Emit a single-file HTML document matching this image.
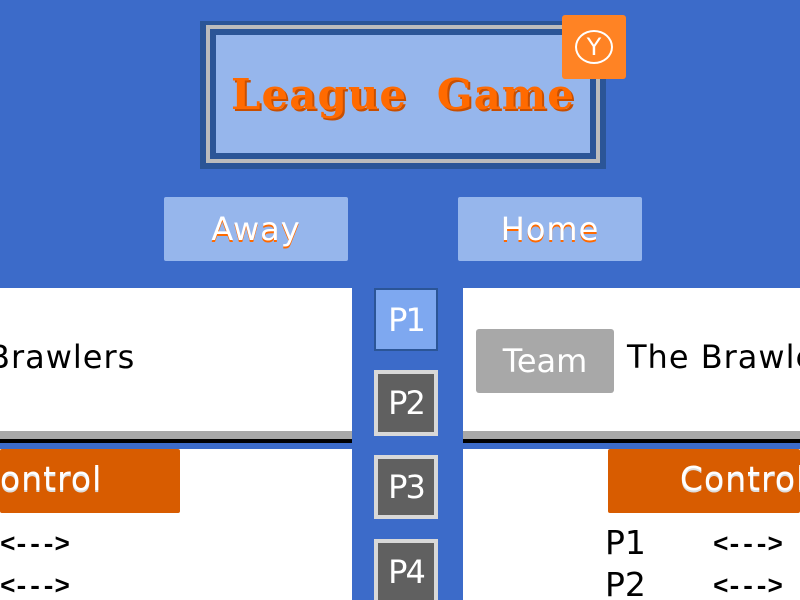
<!DOCTYPE html>
<html><head><meta charset="utf-8"><style>
*{margin:0;padding:0;box-sizing:border-box}
html,body{width:800px;height:600px;overflow:hidden}
body{background:#3c6bc9;position:relative;font-family:"DejaVu Sans","Liberation Sans",sans-serif}
#w{position:absolute;left:0;top:0;width:800px;height:600px;overflow:hidden}
.a{position:absolute}
.c{position:absolute;overflow:hidden}
.t{display:flex;align-items:center;justify-content:center}
.pb{position:absolute;left:374px;width:64px;color:#fff;font-size:32px;display:flex;align-items:center;justify-content:center;letter-spacing:-2px}
.m{font-size:26px;font-family:'Liberation Mono',monospace;font-weight:bold;letter-spacing:-2px}
</style></head><body><div id="w">
<div class="a" style="left:200px;top:21px;width:406px;height:148px;background:#2b5597"></div>
<div class="a" style="left:206px;top:25px;width:394px;height:138px;background:#bcbcbc"></div>
<div class="a" style="left:210px;top:29px;width:386px;height:130px;background:#2b5597"></div>
<div class="a t" style="left:216px;top:35px;width:374px;height:118px;background:#96b6ec;color:#ff6a00;font-family:'DejaVu Serif','Liberation Serif',serif;font-weight:bold;font-size:42px;letter-spacing:1px;text-shadow:2px 2px 0 #c84f00;word-spacing:14px">League Game</div>
<div class="a t" style="left:562px;top:15px;width:64px;height:64px;background:#ff8324;border-radius:3px"><div class="t" style="width:38px;height:34px;border:2px solid #fff;border-radius:50%;color:#fff;font-size:24px">Y</div></div>
<div class="a t" style="left:164px;top:197px;width:184px;height:64px;background:#96b6ec;color:#fff;font-size:32px;letter-spacing:1px;text-shadow:0 2px 0 #ff6a00;border-radius:2px">Away</div>
<div class="a t" style="left:458px;top:197px;width:184px;height:64px;background:#96b6ec;color:#fff;font-size:32px;letter-spacing:1px;text-shadow:0 2px 0 #ff6a00;border-radius:2px">Home</div>

<div class="c" style="left:0;top:288px;width:352px;height:144px;background:#fff">
  <div class="a" style="left:-12px;top:50px;font-size:32px;color:#000;letter-spacing:1px;white-space:nowrap">Brawlers</div>
</div>
<div class="c" style="left:463px;top:288px;width:337px;height:144px;background:#fff">
  <div class="a t" style="left:13px;top:41px;width:138px;height:64px;background:#a8a8a8;color:#fff;font-size:32px;border-radius:3px">Team</div>
  <div class="a" style="left:164px;top:50px;font-size:32px;color:#000;white-space:nowrap;letter-spacing:1px">The Brawlers</div>
</div>
<div class="a" style="left:0;top:431px;width:352px;height:8px;background:#a8a8a8"></div>
<div class="a" style="left:463px;top:431px;width:337px;height:8px;background:#a8a8a8"></div>
<div class="a" style="left:0;top:439px;width:352px;height:4px;background:#000"></div>
<div class="a" style="left:463px;top:439px;width:337px;height:4px;background:#000"></div>

<div class="c" style="left:0;top:449px;width:352px;height:151px;background:#fff">
  <div class="c" style="left:0;top:0;width:180px;height:64px;background:#d85c00;border-radius:2px">
    <div class="a" style="left:-24px;top:10px;font-size:33px;color:#fff;letter-spacing:1px;text-shadow:0 2px 0 #ddd;white-space:nowrap">Control</div>
  </div>
  <div class="a m" style="left:0;top:81px">&lt;---&gt;</div>
  <div class="a m" style="left:0;top:123px">&lt;---&gt;</div>
</div>
<div class="c" style="left:463px;top:449px;width:337px;height:151px;background:#fff">
  <div class="c" style="left:145px;top:0;width:192px;height:64px;background:#d85c00;border-radius:2px">
    <div class="a" style="left:72px;top:10px;font-size:33px;color:#fff;letter-spacing:1px;white-space:nowrap;text-shadow:0 2px 0 #ddd">Control</div>
  </div>
  <div class="a" style="left:142px;top:74px;font-size:33px">P1</div>
  <div class="a" style="left:142px;top:116px;font-size:33px">P2</div>
  <div class="a m" style="left:250px;top:81px">&lt;---&gt;</div>
  <div class="a m" style="left:250px;top:123px">&lt;---&gt;</div>
</div>

<div class="pb" style="top:288px;height:63px;background:#7ea8f0;border:2px solid #2b5597">P1</div>
<div class="pb" style="top:370px;height:66px;background:#606060;border:4px solid #d8d8d8">P2</div>
<div class="pb" style="top:455px;height:64px;background:#606060;border:4px solid #d8d8d8">P3</div>
<div class="pb" style="top:539px;height:61px;background:#606060;border:4px solid #d8d8d8;border-bottom:none">P4</div>
</div></body></html>
